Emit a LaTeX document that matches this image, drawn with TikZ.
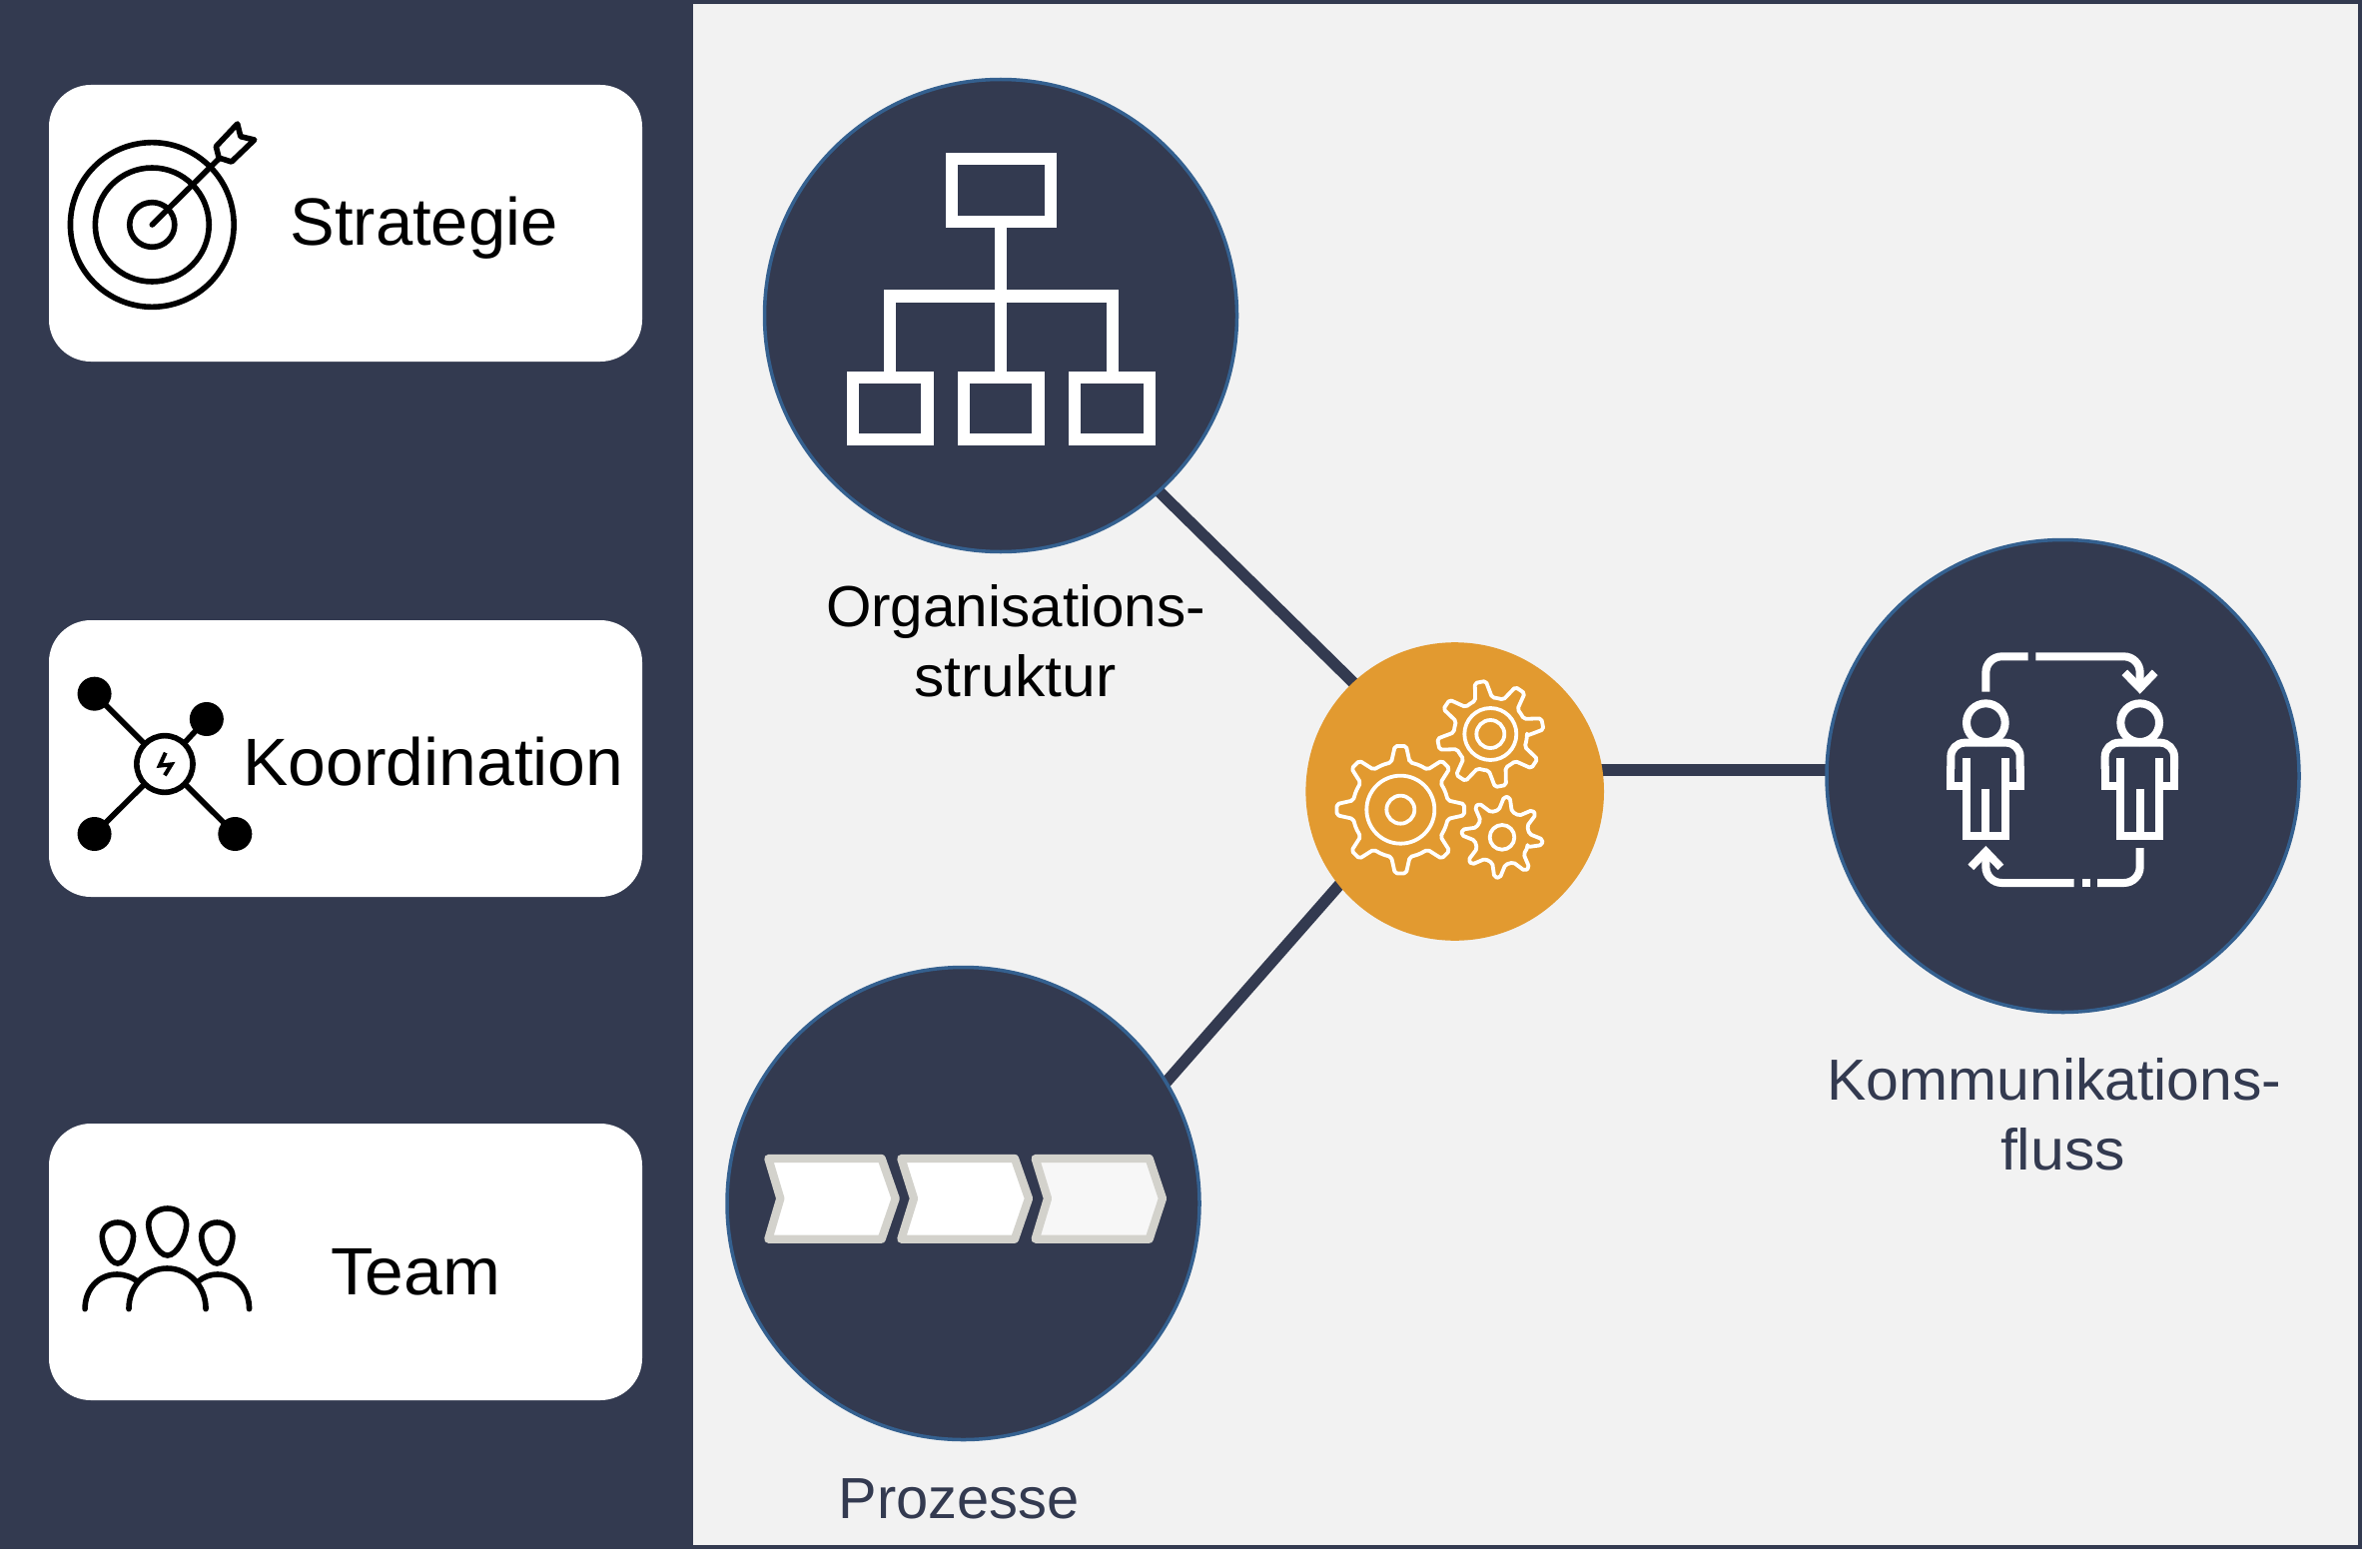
\documentclass[tikz,border=0pt]{standalone}
\usepackage{fontspec}
\usepackage{graphicx}
\setmainfont{Liberation Sans}
\definecolor{navy}{HTML}{333A50}
\definecolor{ringblue}{HTML}{34608F}
\definecolor{amber}{HTML}{E29A30}
\definecolor{paper}{HTML}{F2F2F2}
\definecolor{chevline}{HTML}{D3D2CC}
\pgfdeclarelayer{bg}
\pgfdeclarelayer{conn}
\pgfsetlayers{bg,conn,main}
\newsavebox\fitbox
\newcommand\fitw[2]{\sbox\fitbox{#2}\pgfmathsetmacro\fitr{#1/\the\wd\fitbox}\scalebox{\fitr}[1]{\usebox\fitbox}}
\newcommand\gearshape[7]{%
  \draw[gearline,shift={(#1,#2)}] ({-(#7-#6)}:#4)
    \foreach \k in {0,...,7}{
      -- ({-(#7+45*\k-#6)}:#4) -- ({-(#7+45*\k-#5)}:#3) -- ({-(#7+45*\k+#5)}:#3)
      -- ({-(#7+45*\k+#6)}:#4) -- ({-(#7+45*\k+22.5)}:#4)
    } -- cycle;}
\newcommand\egg[4]{%
  \draw[teamline,shift={(#1,#2)},xscale=#3,yscale=#4]
    (0,1) .. controls (-0.5,1) and (-1,0.6) .. (-1,0.34)
    .. controls (-1,0.13) and (-0.5,0) .. (0,0)
    .. controls (0.5,0) and (1,0.13) .. (1,0.34)
    .. controls (1,0.6) and (0.5,1) .. (0,1) -- cycle;}
\newcommand\person[1]{%
  \begin{scope}[shift={(#1,0)}]
    \draw[iconwhite] (0,311) circle [radius=58];
    \draw[iconwhite,rounded corners=14pt] (-105,450) -- (-105,371) -- (103,371) -- (103,450);
    \draw[iconwhite] (-58,418) -- (-58,652) -- (58,652) -- (58,418);
    \draw[iconwhite] (-105,440) -- (-105,500) -- (-58,500);
    \draw[iconwhite] (103,440) -- (103,500) -- (58,500);
    \draw[iconwhite] (0,510) -- (0,652);
  \end{scope}}
\tikzset{
  x=1pt,y=-1pt,
  card/.style={fill=white,rounded corners=42pt,minimum width=594pt,minimum height=277pt,inner sep=0pt},
  bigdisc/.style={circle,fill=navy,draw=ringblue,line width=3.5pt,minimum size=473pt,inner sep=0pt},
  hub/.style={circle,fill=amber,minimum size=298.6pt,inner sep=0pt},
  link/.style={navy,line width=11.5pt,line cap=rect},
  cardtext/.style={anchor=base,inner sep=0pt,text=black,font=\fontsize{67}{70}\selectfont},
  lab/.style={anchor=base,inner sep=0pt,font=\fontsize{58}{60}\selectfont},
  blackicon/.style={black,line width=5.6pt},
  teamline/.style={black,line width=5.6pt,line cap=round},
  gearline/.style={white,line width=3.8pt,rounded corners=2pt,line join=round},
  orgline/.style={white,line width=12.3pt,line join=miter},
  iconwhite/.style={white,line width=8pt},
  chev/.style={draw=chevline,line width=8.3pt,line join=round},
  zoomwide/.style={xscale=0.3954,yscale=1/3}
}
\begin{document}
\begin{tikzpicture}
\useasboundingbox (0,0) rectangle (2365,1570);
\begin{pgfonlayer}{bg}
  \fill[white] (0,0) rectangle (2365,1570);
  \fill[navy] (0,0) rectangle (2365,1551);
  \fill[paper] (694,4) rectangle (2361,1547);
\end{pgfonlayer}

% left cards
\node[card] (strategie) at (346,223.5) {};
\node[card] (koordination) at (346,759.5) {};
\node[card] (team) at (346,1263.5) {};
\node[cardtext] (tstrategie) at (424.5,246) {\fitw{268}{Strategie}};
\node[cardtext] (tkoordination) at (434,786) {\fitw{381}{Koordination}};
\node[cardtext] (tteam) at (416,1296) {\fitw{170}{Team}};

% target icon
\begin{scope}[shift={(40,90)},zoomwide]
  \draw[blackicon] (284,405) ellipse [x radius=207,y radius=247];
  \draw[blackicon] (284,405) ellipse [x radius=144,y radius=171];
  \draw[blackicon] (284,405) ellipse [x radius=57,y radius=67];
  \draw[blackicon,line cap=round] (284,405) -- (452,208);
  \draw[blackicon,line join=round,fill=white] (446,170) -- (500,102) -- (508,140) -- (543,150) -- (485,216) -- (453,204) -- cycle;
\end{scope}

% network icon
\begin{scope}[shift={(40,610)},zoomwide]
  \draw[blackicon] (316,465) -- (138,254);
  \draw[blackicon] (316,465) -- (422,330);
  \draw[blackicon] (316,465) -- (138,675);
  \draw[blackicon] (316,465) -- (494,675);
  \fill[black] (138,254) ellipse [x radius=43,y radius=51];
  \fill[black] (422,330) ellipse [x radius=43,y radius=51];
  \fill[black] (138,675) ellipse [x radius=43,y radius=51];
  \fill[black] (494,675) ellipse [x radius=43,y radius=51];
  \draw[blackicon,fill=white] (316,465) ellipse [x radius=71,y radius=85];
  \draw[black,line width=4pt] (318,431) -- (303,470) -- (333,466) -- (316,499);
\end{scope}

% team icon
\begin{scope}[shift={(40,1120)},zoomwide]
  \egg{323}{270}{48}{141}
  \egg{197}{312}{39.5}{123}
  \egg{448.5}{312}{39.5}{123}
  \draw[teamline] (114,572) .. controls (114,510) and (150,468) .. (195,468) .. controls (215,468) and (232,476) .. (246,488);
  \draw[teamline] (225,572) .. controls (225,500) and (270,450) .. (322,450) .. controls (375,450) and (420,500) .. (420,572);
  \draw[teamline] (530,572) .. controls (530,510) and (495,468) .. (450,468) .. controls (430,468) and (415,476) .. (402,488);
\end{scope}

% main discs
\node[bigdisc] (orgdisc) at (1002,316) {};
\node[bigdisc] (procdisc) at (964.5,1205) {};
\node[bigdisc] (commdisc) at (2065.5,777) {};
\node[hub] (hubdisc) at (1456.7,792.5) {};

\begin{pgfonlayer}{conn}
  \draw[link] (orgdisc.-48.6) -- (hubdisc.133.5);
  \draw[link] (procdisc.31.8) -- (hubdisc.219);
  \draw[link] ([yshift=21.5pt]hubdisc.east) -- ([yshift=6pt]commdisc.west);
\end{pgfonlayer}

% org chart
\begin{scope}[shift={(820,130)},scale=1/3]
  \draw[orgline] (399.5,87.5) rectangle (695.5,275);
  \draw[orgline] (547,275) -- (547,743);
  \draw[orgline] (213,743) -- (213,499.5) -- (881,499.5) -- (881,743);
  \draw[orgline] (102.5,743) rectangle (325.5,930);
  \draw[orgline] (435.5,743) rectangle (658.5,930);
  \draw[orgline] (769,743) rectangle (992,930);
\end{scope}

% chevrons
\begin{scope}[shift={(740,1120)},scale=1/3]
  \draw[chev,fill=white] (88,120) -- (428,120) -- (470,240) -- (428,362) -- (88,362) -- (124,240) -- cycle;
  \draw[chev,fill=white] (487,120) -- (828,120) -- (870,240) -- (828,362) -- (487,362) -- (525,240) -- cycle;
  \draw[chev,fill=white!97!black] (890,120) -- (1232,120) -- (1272,240) -- (1232,362) -- (890,362) -- (927,240) -- cycle;
\end{scope}

% gears
\begin{scope}[shift={(1290,630)},scale=1/3]
  \gearshape{337}{542}{192}{145}{5}{11}{90}
  \draw[gearline] (337,542) circle [radius=102];
  \draw[gearline] (337,542) circle [radius=42];
  \gearshape{607}{315}{160}{110}{6}{13.5}{11}
  \draw[gearline] (607,315) circle [radius=78];
  \draw[gearline] (607,315) circle [radius=42];
  \gearshape{642}{625}{122}{82}{4}{14}{-7}
  \draw[gearline] (642,625) circle [radius=37];
\end{scope}

% people
\begin{scope}[shift={(1900,620)},scale=1/3]
  \person{265}
  \person{728}
  \draw[iconwhite,rounded corners=16pt] (265,218) -- (265,112) -- (392,112);
  \draw[iconwhite,rounded corners=16pt] (415,112) -- (728,112) -- (728,205);
  \draw[iconwhite] (682,160) -- (728,207) -- (773,160);
  \draw[iconwhite,rounded corners=16pt] (728,687) -- (728,792) -- (600,792);
  \draw[iconwhite] (555,792) -- (578,792);
  \draw[iconwhite,rounded corners=16pt] (530,792) -- (265,792) -- (265,700);
  \draw[iconwhite] (220,745) -- (265,698) -- (310,745);
\end{scope}

% labels
\node[lab,text=black] (lorg) at (1017,627.7) {\fitw{380}{Organisations-}};
\node[lab,text=black] (lstr) at (1016.5,697) {\fitw{202}{struktur}};
\node[lab,text=navy] (lkom) at (2057,1101.7) {\fitw{455}{Kommunikations-}};
\node[lab,text=navy] (lflu) at (2065.5,1171.7) {\fitw{125}{fluss}};
\node[lab,text=navy] (lpro) at (960,1520) {\fitw{241}{Prozesse}};
\end{tikzpicture}
\end{document}
